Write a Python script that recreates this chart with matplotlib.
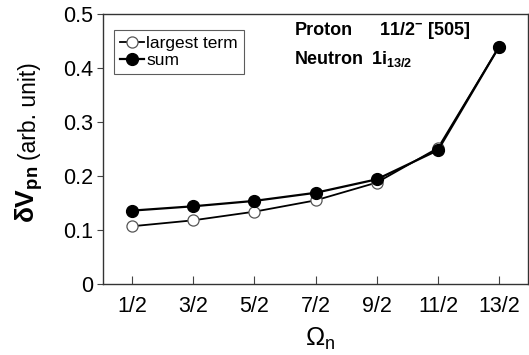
import numpy as np
import matplotlib
matplotlib.use("Agg")
import matplotlib.pyplot as plt

plt.rcParams["font.family"] = ["Liberation Sans", "DejaVu Sans"]
plt.rcParams["mathtext.fontset"] = "custom"
plt.rcParams["mathtext.rm"] = "Liberation Sans"
plt.rcParams["mathtext.it"] = "Liberation Sans:italic"
plt.rcParams["mathtext.bf"] = "Liberation Sans:bold"

# --- data ---
omega_labels = ["1/2", "3/2", "5/2", "7/2", "9/2", "11/2", "13/2"]
largest_term = [0.107, 0.118, 0.134, 0.155, 0.188, 0.252, 0.440]
sum_terms = [0.136, 0.144, 0.154, 0.169, 0.194, 0.248, 0.440]
y_ticks = [0, 0.1, 0.2, 0.3, 0.4, 0.5]
y_tick_labels = ["0", "0.1", "0.2", "0.3", "0.4", "0.5"]

x = np.arange(len(omega_labels))

fig = plt.figure(figsize=(5.29, 3.55), dpi=100)
ax = fig.add_axes([0.195, 0.2, 0.803, 0.76])

ax.plot(x, largest_term, color="black", linewidth=1.3, marker="o",
        markersize=8, markerfacecolor="white", markeredgecolor="#555555",
        markeredgewidth=0.9, label="largest term", zorder=3)
ax.plot(x, sum_terms, color="black", linewidth=1.6, marker="o",
        markersize=8.5, markerfacecolor="black", markeredgecolor="black",
        label="sum", zorder=4)

ax.set_xlim(-0.47, 6.47)
ax.set_ylim(0, 0.5)
ax.set_xticks(x)
ax.set_xticklabels(omega_labels)
ax.set_yticks(y_ticks)
ax.set_yticklabels(y_tick_labels)

ax.tick_params(axis="x", direction="in", length=6, width=0.8,
               labelsize=15.5, pad=9, color="#444444")
ax.tick_params(axis="y", direction="out", length=4.5, width=0.8,
               labelsize=15.5, pad=2.5, color="#444444")
for sp in ax.spines.values():
    sp.set_linewidth(1.0)
    sp.set_color("#333333")

# x label
ax.text(0.51, -0.23, r"$\Omega_{\mathrm{n}}$", transform=ax.transAxes,
        fontsize=18.5, ha="center", va="baseline")

# y label: big bold dV_pn + regular "(arb. unit)"
ax.text(-0.160, 0.44, r"$\mathbf{\delta V_{pn}}$", transform=ax.transAxes,
        rotation=90, rotation_mode="anchor", fontsize=19,
        ha="right", va="baseline")
ax.text(-0.157, 0.46, "(arb. unit)", transform=ax.transAxes,
        rotation=90, rotation_mode="anchor", fontsize=16.5,
        ha="left", va="baseline")

leg = ax.legend(loc="upper left", bbox_to_anchor=(0.026, 0.941), fontsize=12.5,
                frameon=True, fancybox=False, handlelength=1.35,
                handletextpad=0.15, borderpad=0.35, labelspacing=0.1,
                borderaxespad=0.0)
leg.get_frame().set_edgecolor("#333333")
leg.get_frame().set_linewidth(0.8)

ax.text(0.45, 0.922, "Proton", transform=ax.transAxes, fontsize=13,
        fontweight="bold", va="baseline", ha="left")
ax.text(0.65, 0.922, r"11/2$^{\mathbf{-}}$ [505]", transform=ax.transAxes,
        fontsize=13, fontweight="bold", va="baseline", ha="left")
ax.text(0.45, 0.817, "Neutron", transform=ax.transAxes, fontsize=13,
        fontweight="bold", va="baseline", ha="left")
ax.text(0.631, 0.817, r"$\mathbf{1i_{13/2}}$", transform=ax.transAxes,
        fontsize=13, va="baseline", ha="left")

fig.savefig("out.png", dpi=100)
